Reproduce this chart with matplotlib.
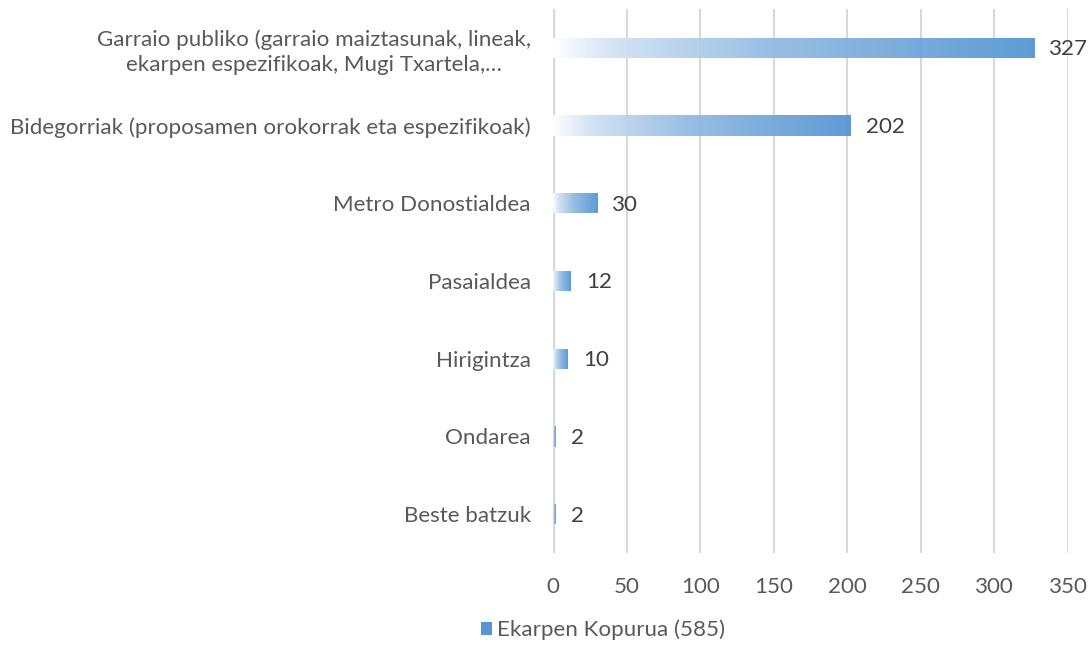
import matplotlib
matplotlib.use("Agg")
import matplotlib.pyplot as plt
import numpy as np
from matplotlib.colors import LinearSegmentedColormap
from matplotlib.patches import Rectangle

categories = [
    "Garraio publiko (garraio maiztasunak, lineak,\nekarpen espezifikoak, Mugi Txartela,…",
    "Bidegorriak (proposamen orokorrak eta espezifikoak)",
    "Metro Donostialdea",
    "Pasaialdea",
    "Hirigintza",
    "Ondarea",
    "Beste batzuk",
]
values = [327, 202, 30, 12, 10, 2, 2]
xticks = [0, 50, 100, 150, 200, 250, 300, 350]
legend_label = "Ekarpen Kopurua (585)"

plt.rcParams['font.family'] = ['Lato', 'DejaVu Sans']
txt = '#595959'
grid_c = '#D9D9D9'
blue = '#5596D3'
fs = 16.1

fig = plt.figure(figsize=(10.92, 6.51), dpi=100)
ax = fig.add_axes([553/1092, 1-553/651, (1068-553)/1092, (553-9)/651])

y = np.arange(len(categories))
bars = ax.barh(y, values, height=0.26, color='none', edgecolor='none', zorder=3)

cmap = LinearSegmentedColormap.from_list('g', [(0, '#ffffff'), (0.12, '#d2e3f4'),
                                               (0.45, '#93bbe3'), (1, blue)])
grad = np.linspace(0, 1, 256).reshape(1, -1)
for b in bars:
    x0, y0 = b.get_x(), b.get_y()
    w, h = b.get_width(), b.get_height()
    im = ax.imshow(grad, cmap=cmap, extent=[x0, x0 + w, y0 + h, y0], aspect='auto',
                   zorder=3, alpha=0.95, interpolation='bilinear')
    im.set_clip_path(b)

for yi, v in zip(y, values):
    ax.annotate(str(v), (v, yi), xytext=(11, -1), textcoords='offset points',
                va='center', ha='left', fontsize=fs, color='#404040')

ax.set_xlim(0, 350)
ax.set_ylim(len(categories) - 0.5, -0.5)
ax.set_xticks(xticks)
ax.set_xticklabels([str(t) for t in xticks])
ax.set_yticks(y)
ax.set_yticklabels(categories, linespacing=1.3)
for lab in ax.get_yticklabels():
    lab.set_multialignment('center')
ax.tick_params(axis='both', length=0, labelsize=fs, colors=txt)
ax.tick_params(axis='y', pad=16)
ax.tick_params(axis='x', pad=17)
ax.xaxis.grid(True, color=grid_c, lw=1.5, zorder=0)
ax.set_axisbelow(True)
for s in ax.spines.values():
    s.set_visible(False)
ax.axvline(0, color=grid_c, lw=2.5, zorder=2)

h = Rectangle((0, 0), 1, 1, facecolor=blue)
fig.legend([h], [legend_label], loc='center', bbox_to_anchor=(0.552, 1-630/651),
           frameon=False, fontsize=fs, labelcolor=txt, handlelength=0.5,
           handleheight=0.5, handletextpad=0.2)

fig.savefig('out.png', dpi=100)
